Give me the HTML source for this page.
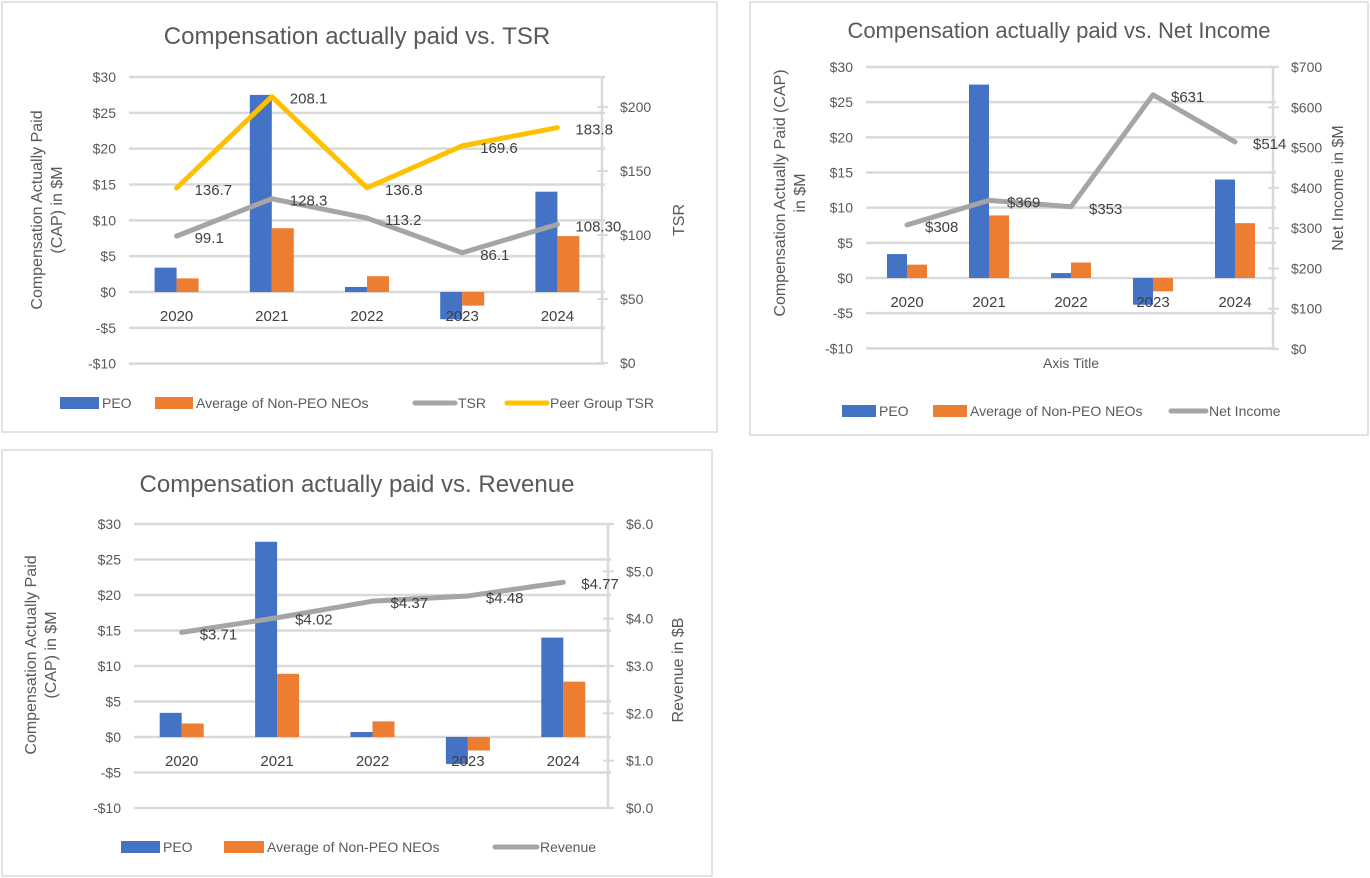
<!DOCTYPE html>
<html><head><meta charset="utf-8"><style>
body{margin:0;background:#fff;width:1370px;height:878px;overflow:hidden;font-family:"Liberation Sans",sans-serif}
svg{position:absolute;left:0;top:0}
text{font-family:"Liberation Sans",sans-serif}
</style></head><body>
<svg id="s" width="1370" height="878" xmlns="http://www.w3.org/2000/svg"></svg>
<script>
const years = ["2020","2021","2022","2023","2024"];
const peoCap = [3.4, 27.5, 0.7, -3.8, 14.0];
const neoCap = [1.9, 8.9, 2.2, -1.9, 7.8];
const tsr = [99.1, 128.3, 113.2, 86.1, 108.3];
const tsrLabels = ["99.1","128.3","113.2","86.1","108.30"];
const peerTsr = [136.7, 208.1, 136.8, 169.6, 183.8];
const peerLabels = ["136.7","208.1","136.8","169.6","183.8"];
const netIncome = [308, 369, 353, 631, 514];
const netLabels = ["$308","$369","$353","$631","$514"];
const revenue = [3.71, 4.02, 4.37, 4.48, 4.77];
const revLabels = ["$3.71","$4.02","$4.37","$4.48","$4.77"];
const leftTicks = [30,25,20,15,10,5,0,-5,-10];
const tsrTicks = [0,50,100,150,200];
const niTicks = [0,100,200,300,400,500,600,700];
const revTicks = [0,1,2,3,4,5,6];

const NS="http://www.w3.org/2000/svg";
const svg=document.getElementById('s');
function el(tag,attrs,parent,txt){const e=document.createElementNS(NS,tag);for(const k in attrs)e.setAttribute(k,attrs[k]);if(txt!==undefined)e.textContent=txt;(parent||svg).appendChild(e);return e;}

function chart(c){
  const g=el('g',{});
  
  
  const b=el('rect',{x:c.box[0],y:c.box[1],width:c.box[2],height:c.box[3],fill:'#fff',stroke:'#d9d9d9','stroke-width':1.5},g);
  
  
  const t=el('text',{x:c.titleX,y:c.titleY,'text-anchor':'middle','font-size':c.titleSize||24,fill:'#595959'},g,c.title);
  
  
  const yL=v=>c.zeroY-(v)*(c.zeroY-c.topY)/30;
  const yR=v=>c.botY-(v-c.rMin)*(c.botY-c.topY)/(c.rMax-c.rMin);
  const cw=(c.x1-c.x0)/years.length;
  const xC=i=>c.x0+cw*(i+0.5);
  leftTicks.forEach(v=>{
    const l=el('line',{x1:c.x0,x2:c.x1,y1:yL(v),y2:yL(v),stroke:'#d9d9d9','stroke-width':2.5},g);
    
    
    const tt=el('text',{x:c.x0-13,y:yL(v)+5,'text-anchor':'end','font-size':14,fill:'#595959'},g,(v<0?'-$'+(-v):'$'+v));
    
    
  });
  el('line',{x1:c.x1-3,x2:c.x1-3,y1:c.topY,y2:c.botY,stroke:'#d9d9d9','stroke-width':2.5},g);
  c.rTicks.forEach((v,i)=>{
    el('line',{x1:c.x1-8,x2:c.x1+3,y1:yR(v),y2:yR(v),stroke:'#d9d9d9','stroke-width':2},g);
    const tt=el('text',{x:c.x1+15,y:yR(v)+5,'font-size':14,fill:'#595959'},g,c.rFmt(v));
    
    
  });
  years.forEach((yr,i)=>{
    const x=xC(i);
    [[peoCap[i],'#4472C4',-c.bw],[neoCap[i],'#ED7D31',0]].forEach(([v,col,off],k)=>{
      const r=el('rect',{x:x+off,width:c.bw,y:Math.min(yL(v),yL(0)),height:Math.abs(yL(v)-yL(0)),fill:col},g);
      
      
    });
    const tl=el('text',{x:x,y:c.zeroY+29,'text-anchor':'middle','font-size':15,fill:'#404040'},g,yr);
    
    
  });
  c.lines.forEach(L=>{
    const p=el('polyline',{points:L.vals.map((v,i)=>xC(i)+','+yR(v)).join(' '),fill:'none',stroke:L.col,'stroke-width':5,'stroke-linejoin':'round','stroke-linecap':'round'},g);
    
    
    L.vals.forEach((v,i)=>{
      const d=el('text',{x:xC(i)+18,y:yR(v)+7,'font-size':15,fill:'#404040'},g,L.labels[i]);
      
      
    });
  });
  const lt=el('text',{transform:`translate(${c.ltX},${c.ltY}) rotate(-90)`,'text-anchor':'middle','font-size':16,fill:'#595959'},g);
  
  
  c.ltLines.forEach((s,k)=>el('tspan',{x:0,dy:k?20:0},lt,s));
  const rt=el('text',{transform:`translate(${c.rtX},${c.rtY}) rotate(-90)`,'text-anchor':'middle','font-size':16,fill:'#595959'},g,c.rTitle);
  
  
  c.legend.forEach(L=>{
    const sw=L.line?el('line',{x1:L.x,x2:L.x+L.w,y1:c.legY,y2:c.legY,stroke:L.col,'stroke-width':5,'stroke-linecap':'round'},g)
      :el('rect',{x:L.x,y:c.legY-6,width:L.w,height:12,fill:L.col},g);
    
    
    const tx=el('text',{x:L.x+L.w+3,y:c.legY+5,'font-size':14,fill:'#595959'},g,L.t);
    
    
  });
  if(c.xTitle){const x=el('text',{x:(c.x0+c.x1)/2,y:c.xTitleY,'text-anchor':'middle','font-size':14,fill:'#595959'},g,c.xTitle);
    
    }
}

chart({name:'cap-vs-tsr-chart',box:[2,2,715,430],title:'Compensation actually paid vs. TSR',titleX:357,titleY:44,
 x0:129,x1:605,topY:77,zeroY:292,botY:363,rMin:0,rMax:223.4,rTicks:tsrTicks,rFmt:v=>'$'+v,bw:22,
 lines:[{name:'tsr',vals:tsr,labels:tsrLabels,col:'#A5A5A5'},{name:'peer-tsr',vals:peerTsr,labels:peerLabels,col:'#FFC000'}],
 ltX:42,ltY:210,ltLines:['Compensation Actually Paid','(CAP) in $M'],rtX:684,rtY:220,rTitle:'TSR',legY:403,
 legend:[{x:60,w:39,col:'#4472C4',t:'PEO'},{x:155,w:38,col:'#ED7D31',t:'Average of Non-PEO NEOs'},{x:415,w:40,col:'#A5A5A5',t:'TSR',line:1},{x:507,w:40,col:'#FFC000',t:'Peer Group TSR',line:1}]});

chart({name:'cap-vs-net-income-chart',box:[750,2,618,433],title:'Compensation actually paid vs. Net Income',titleX:1059,titleY:38,titleSize:22,
 x0:866,x1:1276,topY:67,zeroY:278,botY:349,rMin:0,rMax:700,rTicks:niTicks,rFmt:v=>'$'+v,bw:20,
 lines:[{name:'net-income',vals:netIncome,labels:netLabels,col:'#A5A5A5'}],
 ltX:785,ltY:193,ltLines:['Compensation Actually Paid (CAP)','in $M'],rtX:1343,rtY:188,rTitle:'Net Income in $M',legY:411,
 xTitle:'Axis Title',xTitleY:368,
 legend:[{x:842,w:34,col:'#4472C4',t:'PEO'},{x:933,w:34,col:'#ED7D31',t:'Average of Non-PEO NEOs'},{x:1171,w:35,col:'#A5A5A5',t:'Net Income',line:1}]});

chart({name:'cap-vs-revenue-chart',box:[2,450,710,426],title:'Compensation actually paid vs. Revenue',titleX:357,titleY:492,
 x0:134,x1:611,topY:524,zeroY:737,botY:808,rMin:0,rMax:6,rTicks:revTicks,rFmt:v=>'$'+v.toFixed(1),bw:22,
 lines:[{name:'revenue',vals:revenue,labels:revLabels,col:'#A5A5A5'}],
 ltX:36,ltY:655,ltLines:['Compensation Actually Paid','(CAP) in $M'],rtX:683,rtY:670,rTitle:'Revenue in $B',legY:847,
 legend:[{x:121,w:39,col:'#4472C4',t:'PEO'},{x:224,w:40,col:'#ED7D31',t:'Average of Non-PEO NEOs'},{x:495,w:42,col:'#A5A5A5',t:'Revenue',line:1}]});
</script>
</body></html>
